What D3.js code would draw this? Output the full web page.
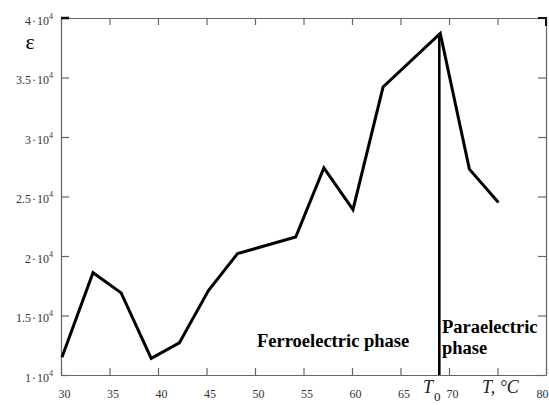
<!DOCTYPE html>
<html lang="en">
<head>
<meta charset="utf-8">
<title>Permittivity vs temperature</title>
<script src="https://cdn.jsdelivr.net/npm/d3@7"></script>
<style>
body { margin: 0; background: #fff; }
.axis path, .axis line { stroke: #666; stroke-width: 1.2; }
</style>
</head>
<body>
<script>
// measured points, T in degC and epsilon
var temps   = [30.1, 33.3, 36.2, 39.3, 42.2, 45.2, 48.2, 54.2, 57.1, 60.1, 63.2, 69.1, 72.1, 75.1];
var epsilon = [11500, 18600, 16900, 11400, 12700, 17100, 20200, 21600, 27400, 23900, 34200, 38700, 27300, 24500];

var xTicks = [30, 35, 40, 45, 50, 55, 60, 65, 70, 75, 80];
var xTickLabels = ["30", "35", "40", "45", "50", "55", "60", "65", "70", "", "80"];
var yTicks = [10000, 15000, 20000, 25000, 30000, 35000, 40000];
var yTickLabels = ["1", "1.5", "2", "2.5", "3", "3.5", "4"];

var T0 = 69.0; // phase transition

var W = 549, H = 405;
var m = {left: 61, right: 3, top: 18, bottom: 30};
var SERIF = "'Liberation Serif', 'Times New Roman', Times, serif";

var svg = d3.select("body").append("svg")
  .attr("width", W).attr("height", H)
  .attr("font-family", SERIF);

var x = d3.scaleLinear().domain([30, 80]).range([m.left, W - m.right]);
var y = d3.scaleLinear().domain([10000, 40000]).range([H - m.bottom, m.top]);

// bottom axis, ticks pointing inward
var gx = svg.append("g").attr("class", "axis")
  .attr("transform", "translate(0," + y(10000) + ")")
  .call(d3.axisBottom(x).tickValues(xTicks).tickSizeInner(-7).tickSizeOuter(0)
    .tickPadding(14).tickFormat(function(d, i) { return xTickLabels[i]; }));
gx.attr("font-family", SERIF).attr("font-size", 12);
gx.selectAll("text").attr("fill", "#333").attr("dx", function(d) { return d === 80 ? -4 : 3; });

// top axis mirror
svg.append("g").attr("class", "axis")
  .attr("transform", "translate(0," + y(40000) + ")")
  .call(d3.axisTop(x).tickValues(xTicks).tickSizeInner(-7).tickSizeOuter(0).tickFormat(""));

// left axis with a·10^4 labels
var gy = svg.append("g").attr("class", "axis")
  .attr("transform", "translate(" + x(30) + ",0)")
  .call(d3.axisLeft(y).tickValues(yTicks).tickSizeInner(-8).tickSizeOuter(0).tickFormat(""));
gy.attr("font-family", SERIF);

gy.selectAll(".tick").each(function(d, i) {
  var t = d3.select(this).append("text")
    .attr("x", -8).attr("y", 6)
    .attr("fill", "#333").attr("font-size", 12)
    .attr("text-anchor", "end");
  t.append("tspan").text(yTickLabels[i] + "\u200A·\u200A10");
  t.append("tspan").attr("dy", -6).attr("font-size", 8).text("4");
});

// right axis mirror
svg.append("g").attr("class", "axis")
  .attr("transform", "translate(" + x(80) + ",0)")
  .call(d3.axisRight(y).tickValues(yTicks).tickSizeInner(-8).tickSizeOuter(0).tickFormat(""));

// darker corner marks
svg.append("line").attr("x1", x(30)).attr("x2", x(30) + 8)
  .attr("y1", y(40000)).attr("y2", y(40000))
  .attr("stroke", "#111").attr("stroke-width", 2.5);
svg.append("path")
  .attr("d", "M" + (x(80) - 8) + "," + y(40000) + "H" + x(80) + "V" + (y(40000) + 8))
  .attr("fill", "none").attr("stroke", "#111").attr("stroke-width", 2);

// data line
var pts = temps.map(function(t, i) { return [t, epsilon[i]]; });
svg.append("path")
  .datum(pts)
  .attr("fill", "none")
  .attr("stroke", "#000")
  .attr("stroke-width", 3)
  .attr("stroke-linejoin", "miter")
  .attr("d", d3.line().x(function(d) { return x(d[0]); }).y(function(d) { return y(d[1]); }));

// transition line
svg.append("line")
  .attr("x1", x(T0)).attr("x2", x(T0))
  .attr("y1", y(38700)).attr("y2", y(10000))
  .attr("stroke", "#000").attr("stroke-width", 2.6);

// labels
svg.append("text").attr("x", 30).attr("y", 49)
  .attr("text-anchor", "middle").attr("font-size", 22).text("ε");

svg.append("text").attr("x", 257).attr("y", 347)
  .attr("font-size", 18.5).attr("font-weight", "bold").text("Ferroelectric phase");
svg.append("text").attr("x", 442).attr("y", 333)
  .attr("font-size", 18.5).attr("font-weight", "bold").text("Paraelectric");
svg.append("text").attr("x", 442).attr("y", 354)
  .attr("font-size", 18.5).attr("font-weight", "bold").text("phase");

var t0 = svg.append("text").attr("x", 423).attr("y", 393)
  .attr("font-size", 18).attr("font-style", "italic").attr("fill", "#222");
t0.append("tspan").text("T");
t0.append("tspan").attr("dy", 8).attr("dx", 1).attr("font-size", 13).attr("font-style", "normal").text("0");

svg.append("text").attr("x", 482).attr("y", 393)
  .attr("font-size", 18).attr("font-style", "italic").attr("fill", "#222")
  .text("T, °C");
</script>
</body>
</html>
